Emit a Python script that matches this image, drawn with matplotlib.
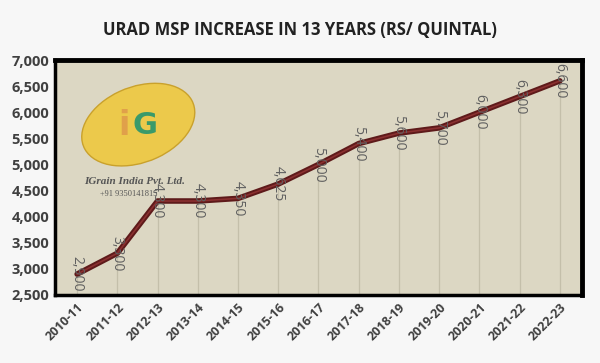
import matplotlib.pyplot as plt
from matplotlib.patches import Ellipse, Rectangle

# data
years = ['2010-11', '2011-12', '2012-13', '2013-14', '2014-15', '2015-16', '2016-17',
         '2017-18', '2018-19', '2019-20', '2020-21', '2021-22', '2022-23']
msp = [2900, 3300, 4300, 4300, 4350, 4625, 5000, 5400, 5600, 5700, 6000, 6300, 6600]
yticks = [2500, 3000, 3500, 4000, 4500, 5000, 5500, 6000, 6500, 7000]

plt.rcParams['hatch.color'] = '#e2e2e2'
plt.rcParams['hatch.linewidth'] = 0.6

fig = plt.figure(figsize=(6, 3.63), dpi=100)
fig.patch.set_facecolor('#f7f7f7')
# textured background
fig.patches.append(Rectangle((0, 0), 1, 1, transform=fig.transFigure, facecolor='none',
                             edgecolor='none', hatch='\\\\\\\\', zorder=0))

ax = fig.add_axes([55 / 600, 1 - 295 / 363, 527 / 600, 235 / 363])
ax.set_facecolor('#dcd7c3')

pos = range(len(years))
ax.plot(pos, msp, color='#5e1a1a', linewidth=4, solid_capstyle='round', zorder=3)
ax.plot(pos, msp, color='#8a3030', linewidth=1.2, zorder=4)

# vertical lines from each point down
for i, v in zip(pos, msp):
    ax.vlines(i, 2500, v, color='#c4bfaa', linewidth=0.9, zorder=1)
    ax.text(i, v, f'{v:,}', rotation=270, ha='center', va='center',
            fontsize=10, color='#606060', family='Open Sans', zorder=5)

ax.set_xlim(-0.55, 12.55)
ax.set_ylim(2500, 7000)
ax.set_yticks(yticks)
ax.set_yticklabels([f'{t:,}' for t in yticks], fontsize=10.5, fontweight='bold',
                   color='#404040', family='Open Sans')
ax.set_xticks(list(pos))
ax.set_xticklabels(years, rotation=45, ha='right', rotation_mode='anchor',
                   fontsize=9, fontweight='bold', color='#404040', family='Open Sans')
ax.tick_params(length=0, pad=4)

for side in ['left', 'bottom']:
    ax.spines[side].set_linewidth(2.5)
for side in ['top', 'right']:
    ax.spines[side].set_linewidth(3.5)
for s in ax.spines.values():
    s.set_color('black')

# logo watermark
ell = Ellipse((0.158, 0.725), 0.2, 0.36, angle=-15, transform=ax.transAxes,
              facecolor='#ecc94b', edgecolor='#c9a12c', linewidth=1, zorder=2)
ax.add_patch(ell)
ax.text(0.13, 0.72, 'i', transform=ax.transAxes, ha='center', va='center',
        fontsize=24, fontweight='bold', color='#e0a04a', zorder=2)
ax.text(0.17, 0.72, 'G', transform=ax.transAxes, ha='center', va='center',
        fontsize=22, fontweight='bold', color='#3a9a6a', zorder=2)
ax.text(0.15, 0.485, 'IGrain India Pvt. Ltd.', transform=ax.transAxes, ha='center',
        va='center', fontsize=8, style='italic', fontweight='bold', color='#555555',
        family='Liberation Serif', zorder=2)
ax.text(0.14, 0.43, '+91 9350141815', transform=ax.transAxes, ha='center',
        va='center', fontsize=6, color='#555555', family='Liberation Serif', zorder=2)

fig.text(0.5, 1 - 30 / 363, 'URAD MSP INCREASE IN 13 YEARS (RS/ QUINTAL)',
         ha='center', va='center', fontsize=12, fontweight='bold', color='#222222',
         family='Open Sans')

plt.savefig('out.png', dpi=100, facecolor=fig.get_facecolor())
